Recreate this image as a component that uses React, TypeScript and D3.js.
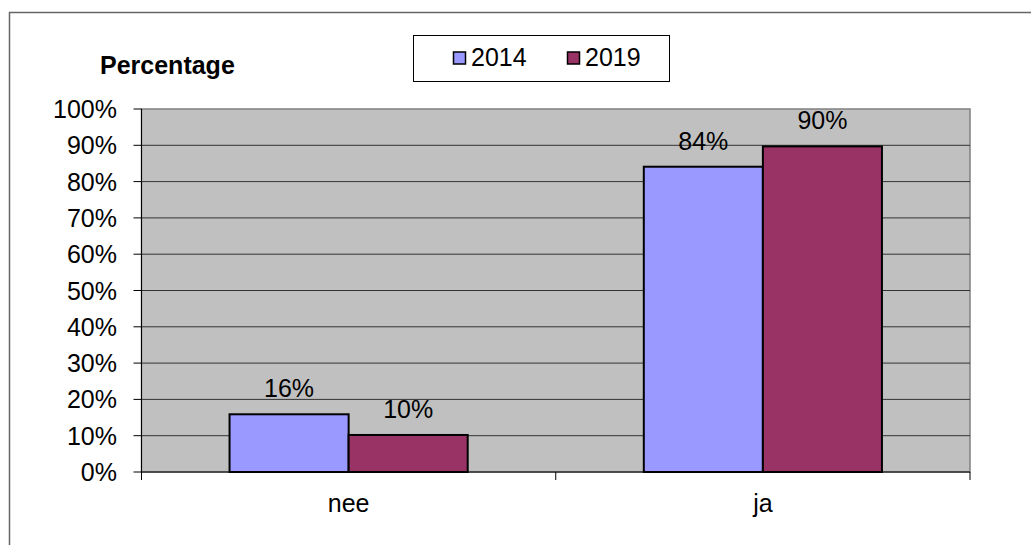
import React from "react";
import * as d3 from "d3";

const categories = ["nee", "ja"];
const seriesNames = ["2014", "2019"];
const values2014 = [0.159, 0.841];
const values2019 = [0.102, 0.897];
const yTicks = [0, 0.1, 0.2, 0.3, 0.4, 0.5, 0.6, 0.7, 0.8, 0.9, 1.0];
const colors = ["#9999FF", "#993366"];

export default function App() {
  const W = 1031, H = 545;
  const left = 141.5, right = 970, top = 109, bottom = 472;
  const font = "Liberation Sans, Arial, sans-serif";
  const fs = 25;
  const x = d3.scaleBand<string>().domain(categories).range([left, right]).paddingInner(0).paddingOuter(0);
  const y = d3.scaleLinear().domain([0, 1]).range([bottom, top]);
  const barW = x.bandwidth() * (238 / 414) / 2;
  const series = [values2014, values2019];
  const fmt = d3.format(".0%");
  return (
    <svg width={W} height={H} style={{ position: "absolute", left: 0, top: 0 }}>
      <rect x={0} y={0} width={W} height={H} fill="#fff" />
      <rect x={9.5} y={12.5} width={W + 10} height={H + 10} fill="none" stroke="#666" strokeWidth={1.5} />
      <rect x={left} y={top} width={right - left} height={bottom - top} fill="#C0C0C0" stroke="#808080" strokeWidth={1.5} />
      {yTicks.map((t) => (
        <g key={t}>
          {t > 0 && t < 1 && (
            <line x1={left} x2={right} y1={y(t)} y2={y(t)} stroke="#333" strokeWidth={1} />
          )}
          <line x1={left - 8} x2={left} y1={y(t)} y2={y(t)} stroke="#000" strokeWidth={1} />
          <text x={117} y={y(t) + 9} textAnchor="end" fontFamily={font} fontSize={fs} fill="#000">
            {fmt(t)}
          </text>
        </g>
      ))}
      <line x1={left} x2={left} y1={top} y2={bottom} stroke="#000" strokeWidth={1} />
      <line x1={left} x2={right} y1={bottom} y2={bottom} stroke="#000" strokeWidth={1} />
      {[left, ...categories.map((c) => (x(c) as number) + x.bandwidth())].map((xx, i) => (
        <line key={i} x1={xx} x2={xx} y1={bottom} y2={bottom + 8} stroke="#000" strokeWidth={1} />
      ))}
      {categories.map((c, ci) => {
        const cx = (x(c) as number) + x.bandwidth() / 2;
        return (
          <g key={c}>
            {series.map((s, si) => {
              const bx = cx - barW + si * barW;
              return (
                <g key={si}>
                  <rect x={bx} y={y(s[ci])} width={barW} height={bottom - y(s[ci])} fill={colors[si]} stroke="#000" strokeWidth={2} />
                  <text x={bx + barW / 2} y={y(s[ci]) - 17} textAnchor="middle" fontFamily={font} fontSize={fs} fill="#000">
                    {fmt(s[ci])}
                  </text>
                </g>
              );
            })}
            <text x={cx} y={512} textAnchor="middle" fontFamily={font} fontSize={fs} fill="#000">
              {c}
            </text>
          </g>
        );
      })}
      <text x={100} y={74} fontFamily={font} fontSize={fs} fontWeight="bold" fill="#000">
        Percentage
      </text>
      <rect x={413.5} y={35.5} width={256} height={46} fill="#fff" stroke="#000" strokeWidth={1} />
      {seriesNames.map((n, i) => (
        <g key={n}>
          <rect x={453.5 + i * 114} y={52} width={12} height={12} fill={colors[i]} stroke="#000" strokeWidth={1.5} />
          <text x={471 + i * 114} y={66} fontFamily={font} fontSize={fs} fill="#000">
            {n}
          </text>
        </g>
      ))}
    </svg>
  );
}
